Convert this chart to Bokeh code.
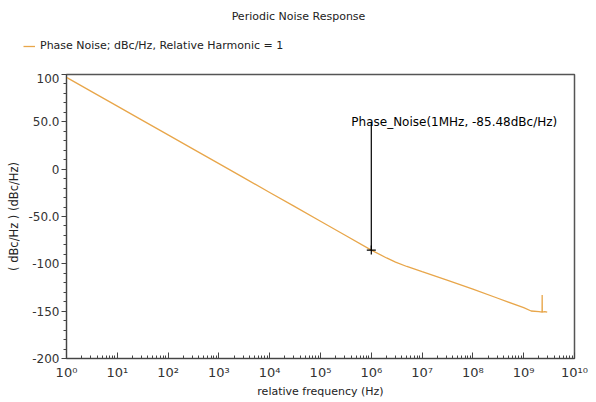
from bokeh.plotting import figure
from bokeh.layouts import column
from bokeh.models import Legend, LegendItem, FixedTicker, Range1d
from bokeh.core.properties import value
from bokeh.embed import file_html
from bokeh.resources import INLINE

# ---- data ----
freq = [1, 3, 10, 30, 100, 300, 1e3, 3e3, 1e4, 3e4, 1e5, 3e5, 1e6,
        2e6, 3e6, 5e6, 1e7, 3e7, 1e8, 3e8, 1e9, 1.4e9, 2e9, 2.3e9, 2.31e9, 2.32e9, 2.6e9, 2.9e9]
phase_noise = [97, 82.5, 66.6, 52.1, 36.2, 21.7, 5.8, -8.7, -24.6, -39.1, -55, -69.5, -85.48,
               -93.8, -98.1, -102.8, -108.3, -116.9, -126.8, -136.1, -146.3, -149.8, -150.5,
               -151, -133, -151, -150.5, -151]

x_ticks = [10 ** k for k in range(11)]
x_tick_labels = ["10⁰", "10¹", "10²", "10³", "10⁴", "10⁵", "10⁶", "10⁷", "10⁸", "10⁹", "10¹⁰"]
x_minor_ticks = [m * 10 ** k for k in range(10) for m in range(2, 10)]
y_ticks = [100, 50, 0, -50, -100, -150, -200]
y_tick_labels = ["100", "50.0", "0", "-50.0", "-100", "-150", "-200"]
y_minor_ticks = list(range(-190, 100, 10))

marker_freq = 1e6
marker_value = -85.48
marker_label_y = 50
marker_text = "Phase_Noise(1MHz, -85.48dBc/Hz)"

title_text = "Periodic Noise Response"
legend_text = "Phase Noise; dBc/Hz, Relative Harmonic = 1"
x_label = "relative frequency (Hz)"
y_label = "( dBc/Hz ) (dBc/Hz)"

FONT = "DejaVu Sans"
CURVE = "#e8a64a"
W, H_HEAD, H_MAIN = 596, 73, 329

# ---- header: title + legend ----
head = figure(width=W, height=H_HEAD, x_range=Range1d(0, W), y_range=Range1d(0, H_HEAD),
              output_backend="svg", toolbar_location=None, title_location=None,
              x_axis_location=None, y_axis_location=None,
              min_border=0, min_border_left=0, min_border_right=0,
              min_border_top=0, min_border_bottom=0)
head.frame_align = False
head.outline_line_color = None
head.xgrid.visible = False
head.ygrid.visible = False
head.text(x=[W / 2], y=[H_HEAD - 16], text=[title_text], text_align="center",
          text_baseline="middle", text_font=value(FONT), text_font_size="11px",
          text_color="#222222")
# legend key renderer (hidden: only its style is used by the legend)
key = head.line(x=freq, y=phase_noise, line_color=CURVE, line_width=1.3, visible=False)
legend = Legend(items=[LegendItem(label=legend_text, renderers=[key])],
                location=(23, 21), orientation="horizontal",
                border_line_alpha=0, background_fill_alpha=0, inactive_fill_alpha=0,
                glyph_width=12, glyph_height=12, label_standoff=5,
                padding=0, margin=0, spacing=0,
                label_text_font=FONT, label_text_font_size="11px",
                label_text_color="#222222")
head.add_layout(legend, "center")

# ---- main plot ----
p = figure(width=W, height=H_MAIN, x_axis_type="log",
           x_range=Range1d(1, 1e10), y_range=Range1d(-200, 100),
           output_backend="svg", toolbar_location=None, title_location=None,
           min_border_left=66, min_border_right=22, min_border_bottom=44, min_border_top=1)
p.frame_align = False

p.xgrid.visible = False
p.ygrid.visible = False
p.outline_line_color = "#555555"
p.outline_line_width = 1.5
p.background_fill_color = "white"
p.border_fill_color = "white"

r = p.line(freq, phase_noise, line_color=CURVE, line_width=1.3)

p.segment(x0=[marker_freq], y0=[marker_value], x1=[marker_freq], y1=[marker_label_y],
          line_color="black", line_width=1.2)
p.scatter(x=[marker_freq], y=[marker_value], marker="cross", size=9,
          line_color="black", line_width=1.2)
p.text(x=[marker_freq], y=[marker_label_y], text=[marker_text], x_offset=-20,
       text_baseline="middle", text_align="left", text_font=value(FONT),
       text_font_size="12px", text_color="black")

# x axis
xa = p.xaxis[0]
xa.ticker = FixedTicker(ticks=x_ticks, minor_ticks=x_minor_ticks)
xa.major_label_overrides = {t: l for t, l in zip(x_ticks, x_tick_labels)}
xa.axis_label = x_label
xa.axis_label_text_font = FONT
xa.axis_label_text_font_size = "11px"
xa.axis_label_text_font_style = "normal"
xa.axis_label_text_color = "#222222"
xa.axis_label_standoff = 2
xa.major_label_text_font = FONT
xa.major_label_text_font_size = "13px"
xa.major_label_text_color = "#333333"
xa.major_label_standoff = 6
xa.major_tick_in = 6
xa.major_tick_out = 0
xa.minor_tick_in = 3
xa.minor_tick_out = 0
xa.axis_line_color = "#444444"
xa.major_tick_line_color = "#444444"
xa.minor_tick_line_color = "#444444"

# y axis
ya = p.yaxis[0]
ya.ticker = FixedTicker(ticks=y_ticks, minor_ticks=y_minor_ticks)
ya.major_label_overrides = {t: l for t, l in zip(y_ticks, y_tick_labels)}
ya.axis_label = y_label
ya.axis_label_text_font = FONT
ya.axis_label_text_font_size = "11.5px"
ya.axis_label_text_font_style = "normal"
ya.axis_label_text_color = "#222222"
ya.axis_label_standoff = 4
ya.major_label_text_font = FONT
ya.major_label_text_font_size = "12px"
ya.major_label_text_color = "#333333"
ya.major_label_standoff = 2
ya.major_tick_in = 0
ya.major_tick_out = 5
ya.minor_tick_in = 0
ya.minor_tick_out = 3
ya.axis_line_color = "#444444"
ya.major_tick_line_color = "#444444"
ya.minor_tick_line_color = "#444444"

layout = column(head, p, spacing=0)
open("out.html", "w").write(file_html(layout, INLINE))
